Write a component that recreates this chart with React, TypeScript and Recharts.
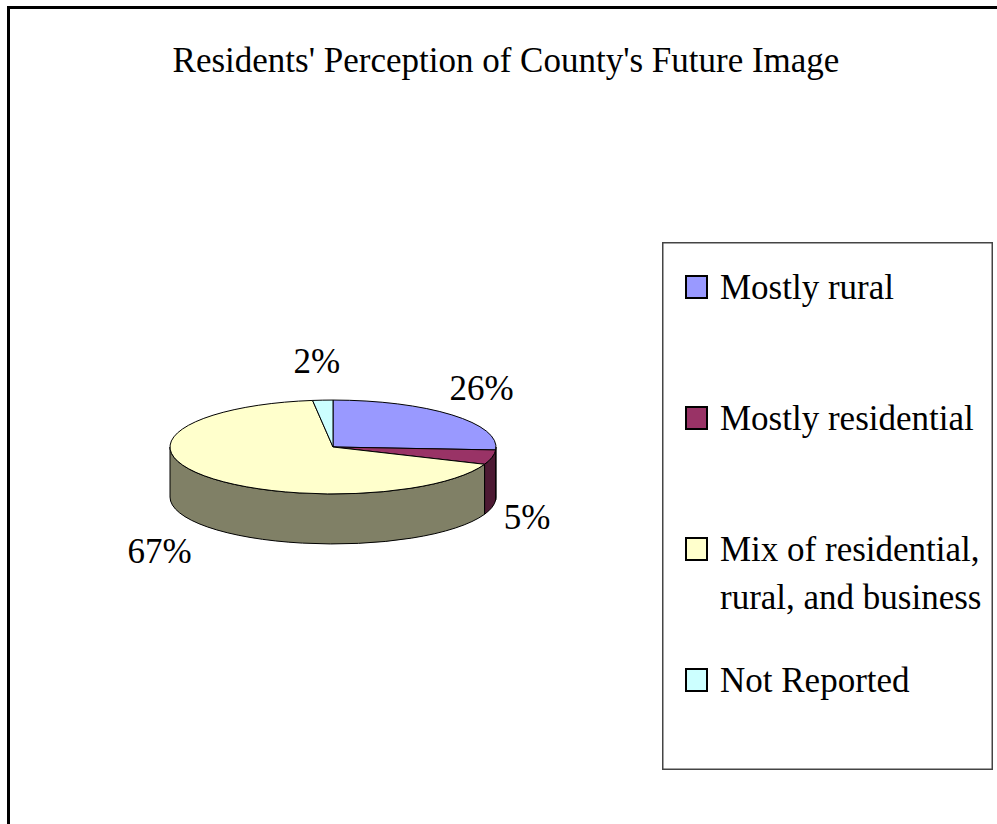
import React from "react";
import { Cell, Legend, Pie, PieChart } from "recharts";

const categories = [
  "Mostly rural",
  "Mostly residential",
  "Mix of residential, rural, and business",
  "Not Reported",
];
const shares = [26, 5, 67, 2];
const colors = ["#9999FF", "#993366", "#FFFFCC", "#CCFFFF"];

const data = categories.map((name, i) => ({ name, value: shares[i] }));

const FONT = "Liberation Serif";
const TILT = 0.288; // vertical squash of the pie top
const DEPTH = 50; // thickness of the pie

// darker tone for the side walls
const shade = (hex: string) => {
  const n = parseInt(hex.slice(1), 16);
  const r = Math.round(((n >> 16) & 255) * 0.5);
  const g = Math.round(((n >> 8) & 255) * 0.5);
  const b = Math.round((n & 255) * 0.5);
  return `rgb(${r},${g},${b})`;
};

const wrap = (text: string, max: number) => {
  const lines: string[] = [];
  let cur = "";
  text.split(" ").forEach((w) => {
    const next = cur ? cur + " " + w : w;
    if (next.length > max && cur) {
      lines.push(cur);
      cur = w;
    } else cur = next;
  });
  if (cur) lines.push(cur);
  return lines;
};

const SerifText = ({ x, y, anchor = "start", children }: any) => (
  <text x={x} y={y} textAnchor={anchor} fontFamily={FONT} fontSize={35} fill="#000">
    {children}
  </text>
);

const Slice3D = (props: any) => {
  const { cx, cy, outerRadius: r, startAngle, endAngle, fill } = props;
  const ry = r * TILT;
  const pt = (a: number, dy = 0) => {
    const rad = (a * Math.PI) / 180;
    return [cx + r * Math.cos(rad), cy - ry * Math.sin(rad) + dy];
  };
  const lo = Math.min(startAngle, endAngle);
  const hi = Math.max(startAngle, endAngle);
  const [x1, y1] = pt(startAngle);
  const [x2, y2] = pt(endAngle);
  const large = hi - lo > 180 ? 1 : 0;
  const sweep = startAngle > endAngle ? 1 : 0;
  const top = `M${cx},${cy} L${x1},${y1} A${r},${ry} 0 ${large} ${sweep} ${x2},${y2} Z`;

  // front walls: the part of the rim where the angle points down
  const walls: string[] = [];
  [-1, 0, 1].forEach((k) => {
    const a = Math.max(lo, -180 + 360 * k);
    const b = Math.min(hi, 360 * k);
    if (b - a > 0.01) {
      const [ax, ay] = pt(b);
      const [bx, by] = pt(a);
      const [cx2, cy2] = pt(a, DEPTH);
      const [dx, dy] = pt(b, DEPTH);
      walls.push(
        `M${ax},${ay} A${r},${ry} 0 0 1 ${bx},${by} L${cx2},${cy2} A${r},${ry} 0 0 0 ${dx},${dy} Z`
      );
    }
  });

  return (
    <g>
      {walls.map((d, i) => (
        <path key={i} d={d} fill={shade(fill)} stroke="#000" strokeWidth={1} />
      ))}
      <path d={top} fill={fill} stroke="#000" strokeWidth={1} />
    </g>
  );
};

const renderLabel = (p: any) => {
  const rad = (p.midAngle * Math.PI) / 180;
  const s = Math.sin(rad);
  const c = Math.cos(rad);
  const x = p.cx + (p.outerRadius + 45) * c;
  const y = p.cy - (p.outerRadius * TILT + 40) * s + (s < 0 ? DEPTH : 0);
  return (
    <SerifText key={p.index} x={x - 3 - (s < 0 ? 6 : 0)} y={y + 13} anchor="middle">
      {`${Math.round(p.percent * 100)}%`}
    </SerifText>
  );
};

const LegendBox = () => (
  <svg width={331} height={528} style={{ display: "block" }}>
    <rect x={0.75} y={0.75} width={329.5} height={526.5} fill="#fff" stroke="#444" strokeWidth={1.5} />
    {categories.map((name, i) => {
      const base = 57 + 131 * i;
      return (
        <g key={name}>
          <rect x={24} y={base - 23} width={21} height={22} fill={colors[i]} stroke="#000" strokeWidth={2} />
          {wrap(name, 19).map((ln, j) => (
            <SerifText key={j} x={58} y={base + 48 * j}>
              {ln}
            </SerifText>
          ))}
        </g>
      );
    })}
  </svg>
);

export default function App() {
  return (
    <div
      style={{
        position: "absolute",
        left: 0,
        top: 0,
        width: 997,
        height: 824,
        overflow: "hidden",
        background: "#fff",
      }}
    >
      <div
        style={{
          position: "absolute",
          left: 7,
          top: 6,
          width: 990,
          height: 818,
          boxSizing: "border-box",
          borderLeft: "3px solid #000",
          borderTop: "3px solid #000",
        }}
      />
      <svg width={997} height={100} style={{ position: "absolute", left: 0, top: 0 }}>
        <SerifText x={506} y={72} anchor="middle">
          Residents' Perception of County's Future Image
        </SerifText>
      </svg>
      <div style={{ position: "absolute", left: 0, top: 0 }}>
        <PieChart width={997} height={824} margin={{ top: 0, right: 0, bottom: 0, left: 0 }}>
          <Pie
            data={data}
            dataKey="value"
            nameKey="name"
            cx={333}
            cy={447}
            outerRadius={163}
            startAngle={90}
            endAngle={-270}
            stroke="#000"
            shape={Slice3D}
            label={renderLabel}
            labelLine={false}
            isAnimationActive={false}
          >
            {data.map((d, i) => (
              <Cell key={d.name} fill={colors[i]} />
            ))}
          </Pie>
          <Legend
            content={() => <LegendBox />}
            wrapperStyle={{ left: 662, top: 242, width: 331, height: 528 }}
          />
        </PieChart>
      </div>
    </div>
  );
}
